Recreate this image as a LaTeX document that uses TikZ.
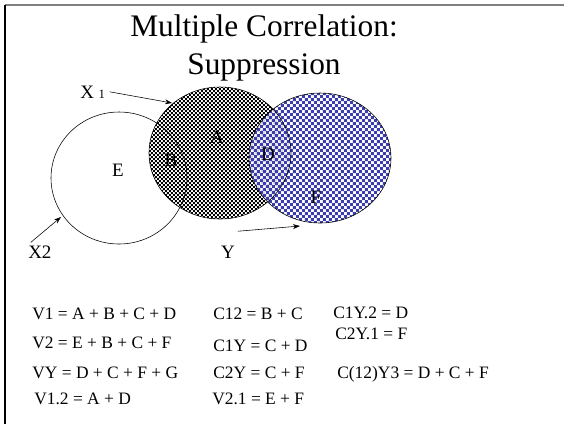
\documentclass[tikz,border=0pt]{standalone}
\usepackage{fontspec}
\setmainfont{Liberation Serif}
\usetikzlibrary{patterns,arrows.meta}
\definecolor{checkblue}{HTML}{3B3DAE}
\definecolor{framegray}{HTML}{7F7F7F}

% fine checkerboards (the library one is too coarse)
\pgfdeclarepatternformonly{finecheck}{\pgfpointorigin}{\pgfqpoint{2.8pt}{2.8pt}}{\pgfqpoint{2.8pt}{2.8pt}}{%
  \pgfpathrectangle{\pgfpointorigin}{\pgfqpoint{1.4pt}{1.4pt}}%
  \pgfpathrectangle{\pgfqpoint{1.4pt}{1.4pt}}{\pgfqpoint{1.4pt}{1.4pt}}%
  \pgfusepath{fill}}
\pgfdeclarepatternformonly{widecheck}{\pgfpointorigin}{\pgfqpoint{4.2pt}{4.2pt}}{\pgfqpoint{4.2pt}{4.2pt}}{%
  \pgfpathrectangle{\pgfpointorigin}{\pgfqpoint{2.1pt}{2.1pt}}%
  \pgfpathrectangle{\pgfqpoint{2.1pt}{2.1pt}}{\pgfqpoint{2.1pt}{2.1pt}}%
  \pgfusepath{fill}}

\tikzset{
  title/.style={anchor=base, inner sep=0pt, font=\fontsize{22.3}{26}\selectfont},
  region/.style={inner sep=0pt, font=\fontsize{13.5}{16}\selectfont},
  formula/.style={anchor=base west, inner sep=0pt, font=\fontsize{12.4}{15}\selectfont},
  pointer/.style={-{Stealth[length=5pt,width=3.5pt]}, thin},
}

\begin{document}
\begin{tikzpicture}[x=0.025cm, y=-0.025cm]
  \useasboundingbox (0,0) rectangle (565,424);
  % frame
  \draw[framegray, line width=1.1pt] (5,5) -- (564,5);
  \draw[line width=0.9pt] (5,5) -- (5,424);

  % title
  \node[title] (head1) at (264,36) {Multiple Correlation:};
  \node[title] (head2) at (264,74) {Suppression};

  % the three sets
  \fill[white] (220,153) ellipse [x radius=71, y radius=66];
  \fill[pattern=finecheck, pattern color=black] (220,153) ellipse [x radius=71, y radius=66];
  \fill[white, fill opacity=0.85] (320,158) ellipse [x radius=71, y radius=65];
  \fill[pattern=widecheck, pattern color=checkblue] (320,158) ellipse [x radius=71, y radius=65];
  \draw[thin] (119,178) ellipse [x radius=68, y radius=66];
  \draw[thin] (220,153) ellipse [x radius=71, y radius=66];
  \draw[thin] (320,158) ellipse [x radius=71, y radius=65];

  % region letters
  \node[region] (ra) at (217,137) {A};
  \node[region] (rb) at (171,160) {B};
  \node[region] (rd) at (268,154) {D};
  \node[region] (re) at (118,170) {E};
  \node[region] (rf) at (316,197) {F};

  % set names
  \node[region, anchor=base west] (xone) at (80,98) {X {\fontsize{9}{10}\selectfont 1}};
  \node[region, anchor=base west] (xtwo) at (28,258) {X2};
  \node[region, anchor=base] (ylab) at (228,258) {Y};
  \coordinate (xonetip) at (172,103);
  \coordinate (xtwotip) at (61,217);
  \coordinate (ytip) at (300,226);
  \draw[pointer] ([xshift=3pt]xone.east) -- (xonetip);
  \draw[pointer] ([xshift=2pt,yshift=2pt]xtwo.north west) -- (xtwotip);
  \draw[pointer] ([xshift=2pt,yshift=10pt]ylab.north east) -- (ytip);

  % formulas
  \node[formula] (v1) at (32,319) {V1 = A + B + C + D};
  \node[formula] (v2) at (32,348) {V2 = E + B + C + F};
  \node[formula] (vy) at (32,378) {VY = D + C + F + G};
  \node[formula] (v12) at (34,404) {V1.2 = A + D};
  \node[formula] (c12) at (213,319) {C12 = B + C};
  \node[formula] (c1y) at (213,351) {C1Y = C + D};
  \node[formula] (c2y) at (213,378) {C2Y = C + F};
  \node[formula] (v21) at (212,404) {V2.1 = E + F};
  \node[formula] (c1y2) at (333,318) {C1Y.2 = D};
  \node[formula] (c2y1) at (335,339) {C2Y.1 = F};
  \node[formula] (c12y3) at (337,378) {C(12)Y3 = D + C + F};
\end{tikzpicture}
\end{document}
